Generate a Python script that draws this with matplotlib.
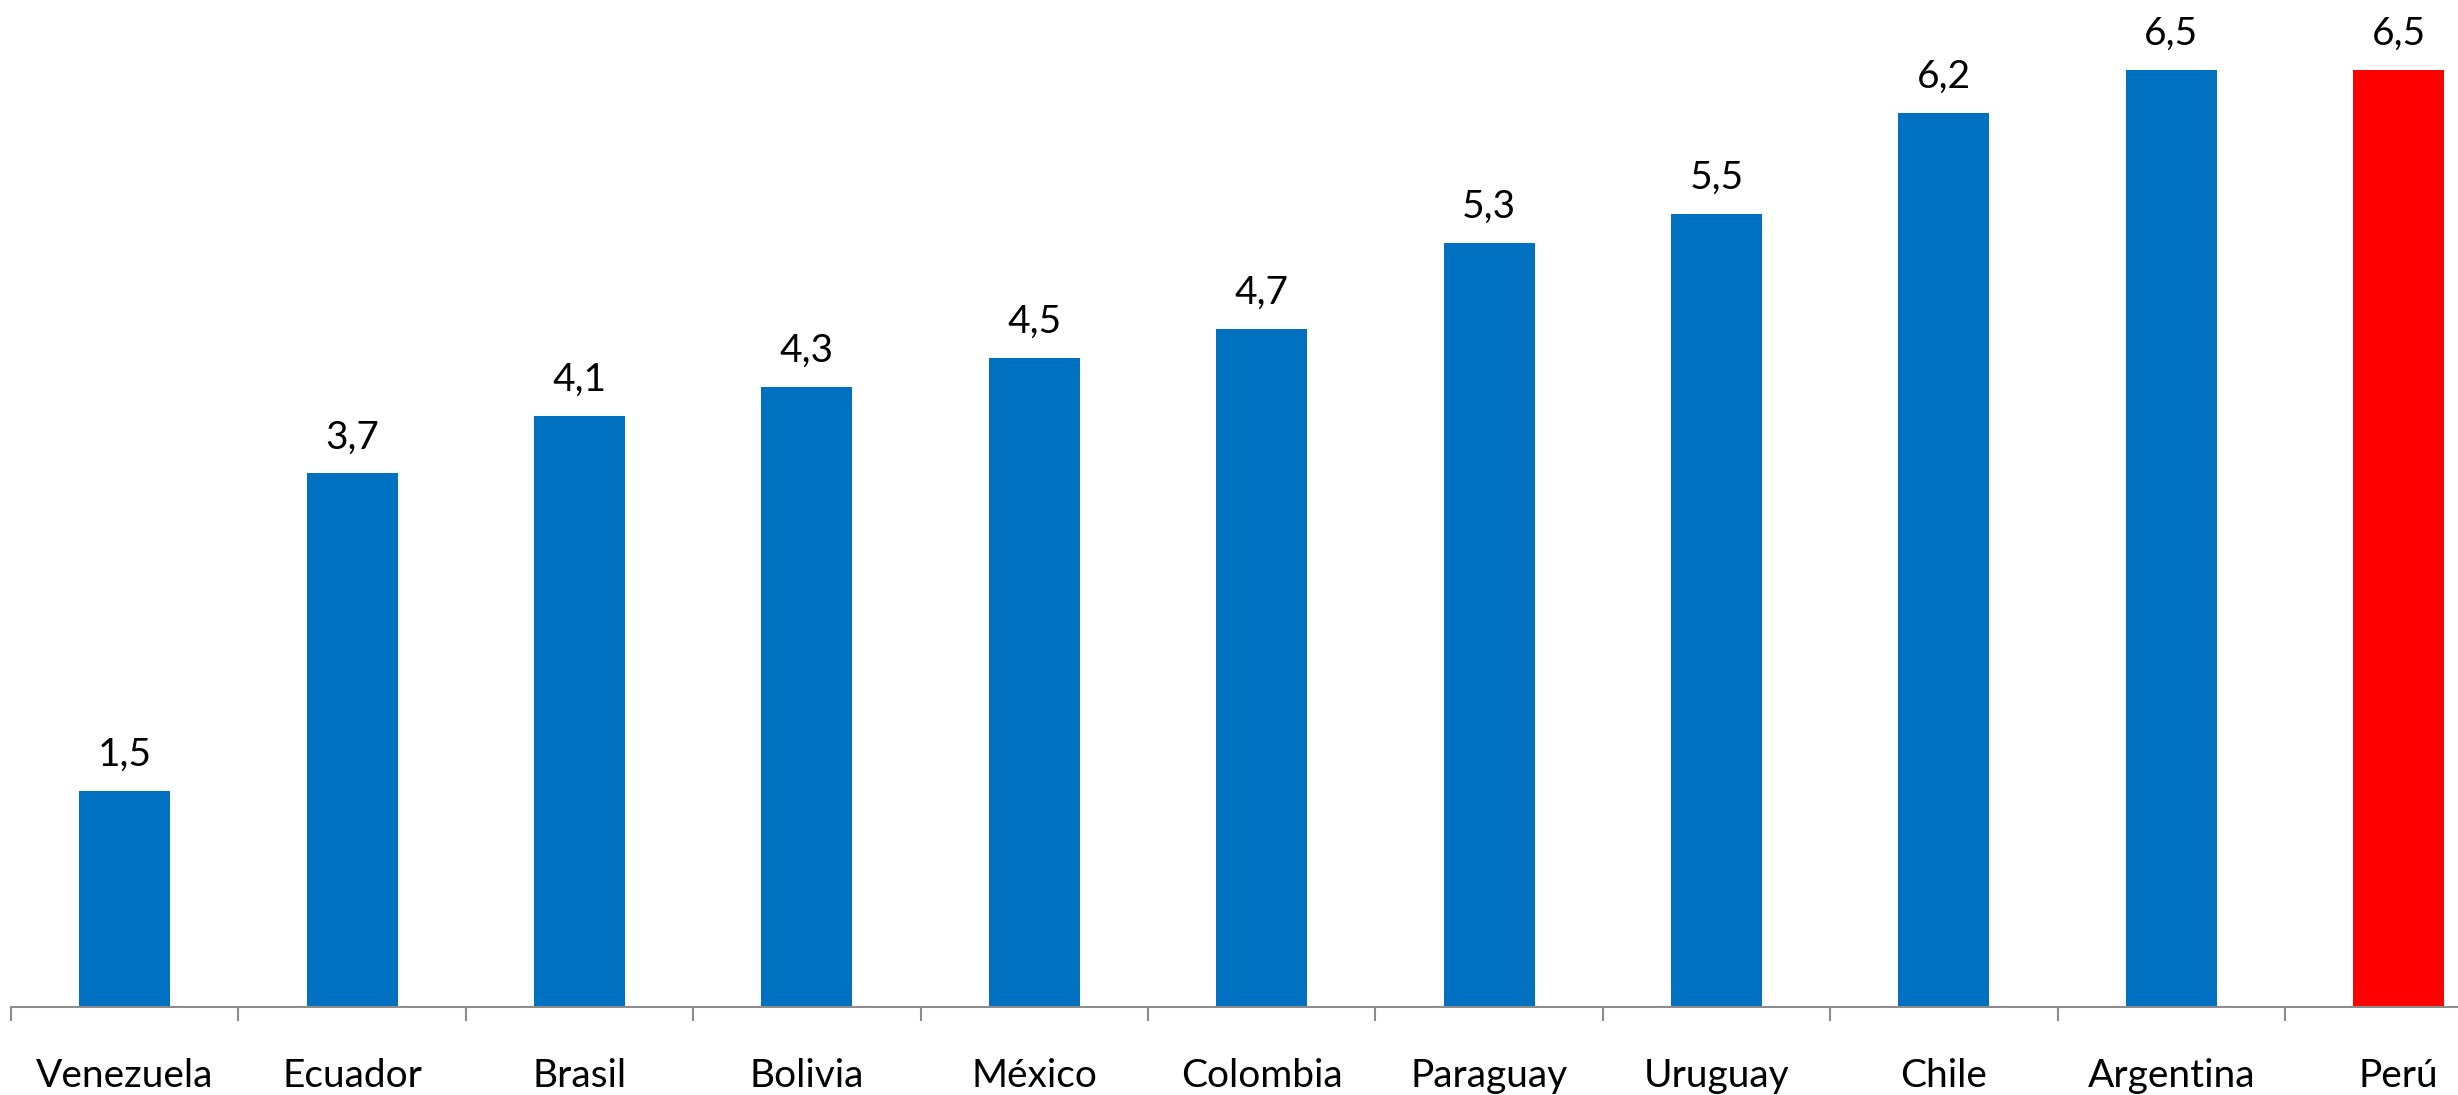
import numpy as np
import matplotlib.pyplot as plt

# Datos
paises = ["Venezuela", "Ecuador", "Brasil", "Bolivia", "México", "Colombia",
          "Paraguay", "Uruguay", "Chile", "Argentina", "Perú"]
valores = [1.5, 3.7, 4.1, 4.3, 4.5, 4.7, 5.3, 5.5, 6.2, 6.5, 6.5]
etiquetas = ["1,5", "3,7", "4,1", "4,3", "4,5", "4,7", "5,3", "5,5", "6,2", "6,5", "6,5"]

AZUL = "#0070C0"
ROJO = "#FF0000"
EJE = "#8C8C8C"
FUENTE = "Lato"
TAM = 28

fig = plt.figure(figsize=(24.58, 10.95), dpi=100)
# el eje se sale un poco por la derecha, como en el original
ax = fig.add_axes([11 / 2458, 88 / 1095, 11 * 227.4 / 2458, 7 * 144.2 / 1095])

x = np.arange(len(paises))
colores = [ROJO if p == "Perú" else AZUL for p in paises]
bars = ax.bar(x, valores, width=0.4, color=colores)

for b, txt in zip(bars, etiquetas):
    ax.annotate(txt, (b.get_x() + b.get_width() / 2, b.get_height()),
                xytext=(0, 13), textcoords="offset points",
                ha="center", va="bottom", fontsize=TAM, family=FUENTE)

ax.set_xlim(-0.5, len(paises) - 0.5)
ax.set_ylim(0, 7)

for s in ["top", "right", "left"]:
    ax.spines[s].set_visible(False)
ax.spines["bottom"].set_color(EJE)
ax.spines["bottom"].set_linewidth(1.5)
ax.set_yticks([])

# ticks mayores en los limites de categoria, etiquetas en los centros
ax.set_xticks(np.arange(len(paises) + 1) - 0.5)
ax.set_xticklabels([])
ax.tick_params(axis="x", which="major", length=10, width=1.5, color=EJE)
ax.set_xticks(x, minor=True)
ax.set_xticklabels(paises, minor=True, fontsize=TAM, family=FUENTE)
ax.tick_params(axis="x", which="minor", length=0, pad=37)

plt.savefig("out.png", dpi=100)
plt.close()
